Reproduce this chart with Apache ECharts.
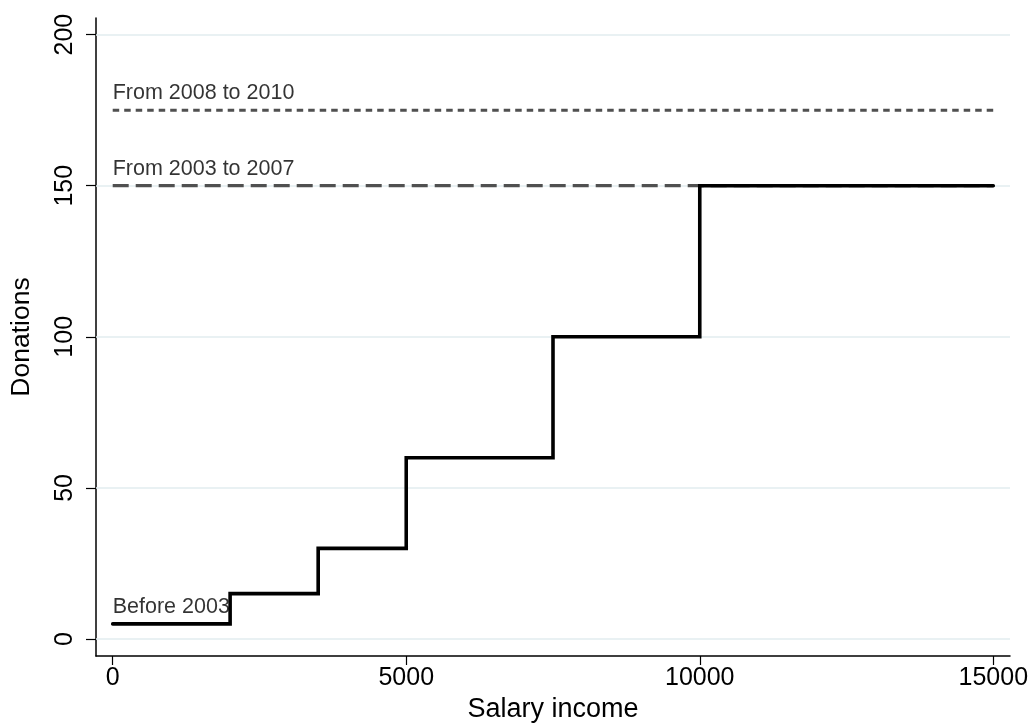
<!DOCTYPE html>
<html>
<head>
<meta charset="utf-8">
<script src="https://cdn.jsdelivr.net/npm/echarts@6/dist/echarts.min.js"></script>
<style>
html,body{margin:0;padding:0;background:#fff;}
#chart{width:1030px;height:723px;}
</style>
</head>
<body>
<div id="chart"></div>
<script>
// ---- data ----
var incomeBreaks = [0, 2000, 3500, 5000, 7500, 10000, 15000];
var donationsBefore2003 = [5, 15, 30, 60, 100, 150, 150];
var rangeX = [0, 15000];
var level2003to2007 = 150;
var level2008to2010 = 175;
var xTicks = [0, 5000, 10000, 15000];
var yTicks = [0, 50, 100, 150, 200];
var labelTexts = ['Before 2003', 'From 2003 to 2007', 'From 2008 to 2010'];
var labelYs = [5, 150, 175];

var FONT = '"Liberation Sans", Arial, Helvetica, sans-serif';

var stepData = incomeBreaks.map(function (x, i) { return [x, donationsBefore2003[i]]; });
var line0307 = rangeX.map(function (x) { return [x, level2003to2007]; });
var line0810 = rangeX.map(function (x) { return [x, level2008to2010]; });
var labelData = labelTexts.map(function (t, i) { return { value: [rangeX[0], labelYs[i]], name: t }; });

var chart = echarts.init(document.getElementById('chart'), null, { renderer: 'canvas' });
chart.setOption({
  animation: false,
  backgroundColor: '#ffffff',
  grid: { left: 96, right: 20, top: 18, bottom: 67, containLabel: false, outerBoundsMode: 'none' },
  xAxis: {
    type: 'value',
    min: -284.5, max: 15284.5,
    name: 'Salary income',
    nameLocation: 'middle',
    nameGap: 40,
    nameTextStyle: { fontFamily: FONT, fontSize: 27, color: '#000' },
    axisLine: { show: true, onZero: false, lineStyle: { color: '#000', width: 1.5 } },
    axisTick: { show: true, customValues: xTicks, length: 9, lineStyle: { color: '#000', width: 1.2 } },
    axisLabel: { customValues: xTicks, formatter: function (v) { return String(v); }, fontFamily: FONT, fontSize: 25, color: '#000', margin: 10, showMinLabel: true, showMaxLabel: true },
    splitLine: { show: false }
  },
  yAxis: {
    type: 'value',
    min: -5.63, max: 205.5,
    name: 'Donations',
    nameLocation: 'middle',
    nameGap: 61,
    nameTextStyle: { fontFamily: FONT, fontSize: 26.5, color: '#000' },
    axisLine: { show: true, onZero: false, lineStyle: { color: '#000', width: 1.5 } },
    axisTick: { show: true, customValues: yTicks, length: 10, lineStyle: { color: '#000', width: 1.2 } },
    axisLabel: { customValues: yTicks, formatter: function (v) { return String(v); }, rotate: 90, fontFamily: FONT, fontSize: 25, color: '#000', margin: 18, showMinLabel: true, showMaxLabel: true },
    splitLine: { show: false }
  },
  series: [
    {
      type: 'line', data: [], silent: true, z: 1,
      markLine: {
        z: 1, zlevel: 0,
        silent: true, symbol: ['none', 'none'], animation: false,
        label: { show: false },
        emphasis: { disabled: true },
        lineStyle: { color: '#e2ecef', width: 1.6, type: 'solid' },
        data: yTicks.map(function (v) { return { yAxis: v }; })
      }
    },
    {
      type: 'line', data: line0810, showSymbol: false, symbol: 'none', z: 3, silent: true,
      lineStyle: { color: '#505050', width: 3, type: [6.5, 5] }
    },
    {
      type: 'line', data: line0307, showSymbol: false, symbol: 'none', z: 3, silent: true,
      lineStyle: { color: '#505050', width: 3.2, type: [16, 7] }
    },
    {
      type: 'line', data: stepData, step: 'end', showSymbol: false, symbol: 'none', z: 4, silent: true,
      lineStyle: { color: '#000000', width: 3.6, cap: 'round', join: 'miter' }
    },
    {
      type: 'scatter', data: labelData, symbolSize: 0, z: 5, silent: true,
      label: {
        show: true, position: 'top', align: 'left', distance: 6,
        formatter: function (p) { return p.name; },
        fontFamily: FONT, fontSize: 21.5, color: '#000'
      }
    }
  ]
});
</script>
</body>
</html>
